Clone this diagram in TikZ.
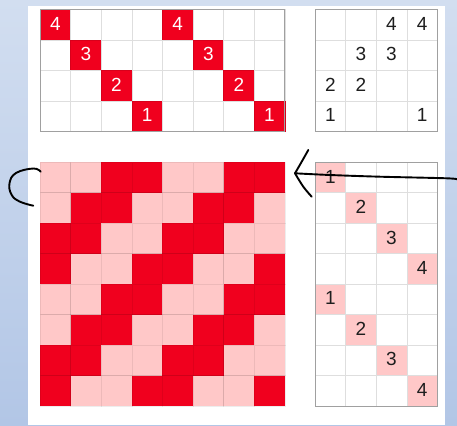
\documentclass[tikz,border=0pt]{standalone}
\usepackage{fontspec}
\setmainfont{Liberation Sans}
\definecolor{redD}{RGB}{240,0,30}
\definecolor{pinkL}{RGB}{255,200,200}
\definecolor{gridgray}{RGB}{222,222,222}
\definecolor{bordergray}{RGB}{160,160,160}
\definecolor{bgtop}{RGB}{210,222,240}
\definecolor{bgbot}{RGB}{178,198,230}
\definecolor{txt}{RGB}{30,30,30}
\tikzset{
  cellbox/.style={minimum width=30.6pt, minimum height=30.5pt, inner sep=0pt, outer sep=0pt,
    draw=gridgray, line width=0.6pt, font=\fontsize{19}{19}\selectfont, text=txt},
  redcell/.style={cellbox, fill=redD, draw=redD!90!black, text=white},
  pinkcell/.style={cellbox, fill=pinkL},
  wavecell/.style={cellbox, draw=black, draw opacity=0.07},
  outline/.style={draw=bordergray, line width=0.8pt},
  hand/.style={draw=black, line width=1.9pt, line cap=round, line join=round}
}
\newcommand{\num}[1]{\raisebox{2pt}{#1}}
\begin{document}
\begin{tikzpicture}[x=1pt,y=-1pt]
\useasboundingbox (0,0) rectangle (457,425);
\shade[top color=bgtop, bottom color=bgbot] (0,0) rectangle (457,425);
\fill[white] (28,6) rectangle (445,425);

% top-left grid 4x8
\foreach \r in {0,...,3}{
  \foreach \c in {0,...,7}{
    \pgfmathtruncatemacro{\m}{mod(\c,4)}
    \pgfmathtruncatemacro{\n}{4-\r}
    \ifnum\m=\r
      \node[redcell] (tl-\r-\c) at ({40+30.6*(\c+0.5)},{9.3+30.6*(\r+0.5)}) {\num{\n}};
    \else
      \node[cellbox] (tl-\r-\c) at ({40+30.6*(\c+0.5)},{9.3+30.6*(\r+0.5)}) {};
    \fi
  }
}
\draw[outline] (tl-0-0.north west) rectangle (tl-3-7.south east);

% top-right grid 4x4
\foreach \r/\c/\t in {0/0/,0/1/,0/2/4,0/3/4,1/0/,1/1/3,1/2/3,1/3/,2/0/2,2/1/2,2/2/,2/3/,3/0/1,3/1/,3/2/,3/3/1}{
  \node[cellbox] (tr-\r-\c) at ({315+30.6*(\c+0.5)},{9.3+30.6*(\r+0.5)}) {\num{\t}};
}
\draw[outline] (tr-0-0.north west) rectangle (tr-3-3.south east);

% bottom-left grid 8x8
\foreach \r in {0,...,7}{
  \foreach \c in {0,...,7}{
    \pgfmathtruncatemacro{\k}{mod(\c+\r,4)}
    \ifnum\k>1
      \node[wavecell, fill=redD] (bl-\r-\c) at ({40+30.6*(\c+0.5)},{162.3+30.46*(\r+0.5)}) {};
    \else
      \node[wavecell, fill=pinkL] (bl-\r-\c) at ({40+30.6*(\c+0.5)},{162.3+30.46*(\r+0.5)}) {};
    \fi
  }
}

% bottom-right grid 8x4
\foreach \r in {0,...,7}{
  \foreach \c in {0,...,3}{
    \pgfmathtruncatemacro{\m}{mod(\r,4)}
    \pgfmathtruncatemacro{\n}{\m+1}
    \ifnum\m=\c
      \node[pinkcell] (br-\r-\c) at ({315+30.6*(\c+0.5)},{162.3+30.46*(\r+0.5)}) {\num{\n}};
    \else
      \node[cellbox] (br-\r-\c) at ({315+30.6*(\c+0.5)},{162.3+30.46*(\r+0.5)}) {};
    \fi
  }
}
\draw[outline] (br-0-0.north west) rectangle (br-7-3.south east);

% hand-drawn marks
\draw[hand] plot[smooth, tension=0.7] coordinates {(40.7,171.7) (33.3,168.5) (16,173) (9.5,183.3) (11.7,195) (20,201.7) (33.3,205.7)};
\coordinate (tip) at (295,173.3);
\draw[hand] plot[smooth, tension=0.6] coordinates {(457,179.5) (446.7,178.3) (380,176.7) (330,175) (tip)};
\draw[hand] plot[smooth, tension=0.6] coordinates {(308.3,150) (301.7,161.7) (tip)};
\draw[hand] plot[smooth, tension=0.6] coordinates {(tip) (303.3,186.7) (311.7,196.7)};
\end{tikzpicture}
\end{document}
